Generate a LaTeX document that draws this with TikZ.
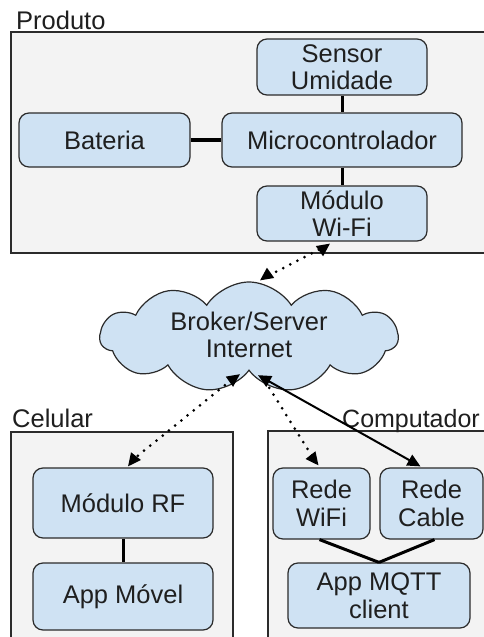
\documentclass[tikz,border=0pt]{standalone}
\usepackage{fontspec}
\setmainfont{Liberation Sans}
\usetikzlibrary{shapes.symbols,arrows.meta,calc}
\definecolor{boxblue}{HTML}{CFE2F3}
\definecolor{contgray}{HTML}{F3F3F3}
\definecolor{edgegray}{HTML}{2B2B2B}
\definecolor{txt}{HTML}{1F1F1F}
\tikzset{
  every node/.style={font=\fontsize{25.5}{27.5}\selectfont, text=txt},
  container/.style={draw=edgegray, fill=contgray, line width=1.3pt},
  blk/.style={draw=edgegray, fill=boxblue, rounded corners=10pt, line width=1.2pt,
    align=center, inner sep=0pt},
  lbl/.style={anchor=base west, inner sep=0pt},
  link/.style={line width=3pt, black},
  dotlink/.style={line width=3pt, black, dash pattern=on 0pt off 8pt, line cap=round},
  tipA/.style={-{Triangle[length=13pt,width=12pt]}},
  tipB/.style={{Triangle[length=13pt,width=12pt]}-{Triangle[length=13pt,width=12pt]}},
  solidarrow/.style={line width=2pt, black},
}
\begin{document}
\begin{tikzpicture}[x=1pt,y=-1pt]
\useasboundingbox (0,0) rectangle (484,637);
\fill[white] (0,0) rectangle (484,637);
% containers
\draw[container] (11,32) rectangle (490,253);
\draw[container] (11,432) rectangle (233,645);
\draw[container] (268,431) rectangle (490,645);
\node[lbl] (lprod) at (16,29) {Produto};
\node[lbl] (lcel) at (12,427) {Celular};
\node[lbl, font=\fontsize{25}{27}\selectfont] (lcomp) at (342,427) {Computador};
% Produto
\node[blk, minimum width=170pt, minimum height=56pt] (sensor) at (342,67) {Sensor\\Umidade};
\node[blk, minimum width=171pt, minimum height=54pt] (bat) at (104.5,140) {Bateria};
\node[blk, minimum width=240pt, minimum height=54pt] (micro) at (342,140) {Microcontrolador};
\node[blk, minimum width=170pt, minimum height=55pt] (wifi) at (342,213.5) {Módulo\\Wi-Fi};
% cloud
\node[cloud, draw=edgegray, fill=boxblue, line width=1.2pt, cloud puffs=11, cloud puff arc=115,
  minimum width=298pt, minimum height=110pt, inner sep=0pt, aspect=2.7] (cloud) at (249,337) {};
\node[align=center, inner sep=0pt] (cloudtxt) at (249,335) {Broker/Server\\Internet};
% Celular
\node[blk, minimum width=180pt, minimum height=70pt] (modrf) at (123,503) {Módulo RF};
\node[blk, minimum width=180pt, minimum height=67pt] (appmov) at (123,596.5) {App Móvel};
% Computador
\node[blk, minimum width=97pt, minimum height=71pt] (rwifi) at (321.5,503.5) {Rede\\WiFi};
\node[blk, minimum width=103pt, minimum height=71pt] (cable) at (431.5,503.5) {Rede\\Cable};
\node[blk, minimum width=182pt, minimum height=65pt] (mqtt) at (379,595.5) {App MQTT\\client};
% solid links
\draw[link] (sensor.south) -- (micro.north);
\draw[link, line width=3.5pt] (bat.east) -- (micro.west);
\draw[link] (micro.south) -- (wifi.north);
\draw[link] (modrf.south) -- (appmov.north);
\draw[link] ($(rwifi.south)+(-2,0)$) -- (mqtt.north);
\draw[link] ($(cable.south)+(3,0)$) -- (mqtt.north);
% dotted: cloud <-> Modulo Wi-Fi
\draw[dotlink] ($(cloud.north)+(20,-6)$) -- ($(wifi.south)+(-21,7)$);
\draw[solidarrow, tipA] ($(cloud.north)+(18,-6)$) -- ($(cloud.north)+(11,-1)$);
\draw[solidarrow, tipA] ($(wifi.south)+(-19,7)$) -- ($(wifi.south)+(-12,2)$);
% dotted: cloud <-> Modulo RF
\draw[dotlink] ($(cloud.south)+(-18,9)$) -- ($(modrf.north)+(14,-11)$);
\draw[solidarrow, tipA] ($(cloud.south)+(-16,8)$) -- ($(cloud.south)+(-9,3)$);
\draw[solidarrow, tipA] ($(modrf.north)+(12,-10)$) -- ($(modrf.north)+(5,-1)$);
% solid: cloud <-> Rede Cable
\draw[solidarrow, tipB] ($(cloud.south)+(9,4)$) -- ($(cable.north)+(-11,-1)$);
% dotted: cloud -> Rede WiFi
\draw[dotlink] ($(cloud.south)+(16,10)$) -- ($(rwifi.north)+(-8,-9)$);
\draw[solidarrow, tipA] ($(rwifi.north)+(-10,-11)$) -- ($(rwifi.north)+(-3,-2)$);
\end{tikzpicture}
\end{document}
